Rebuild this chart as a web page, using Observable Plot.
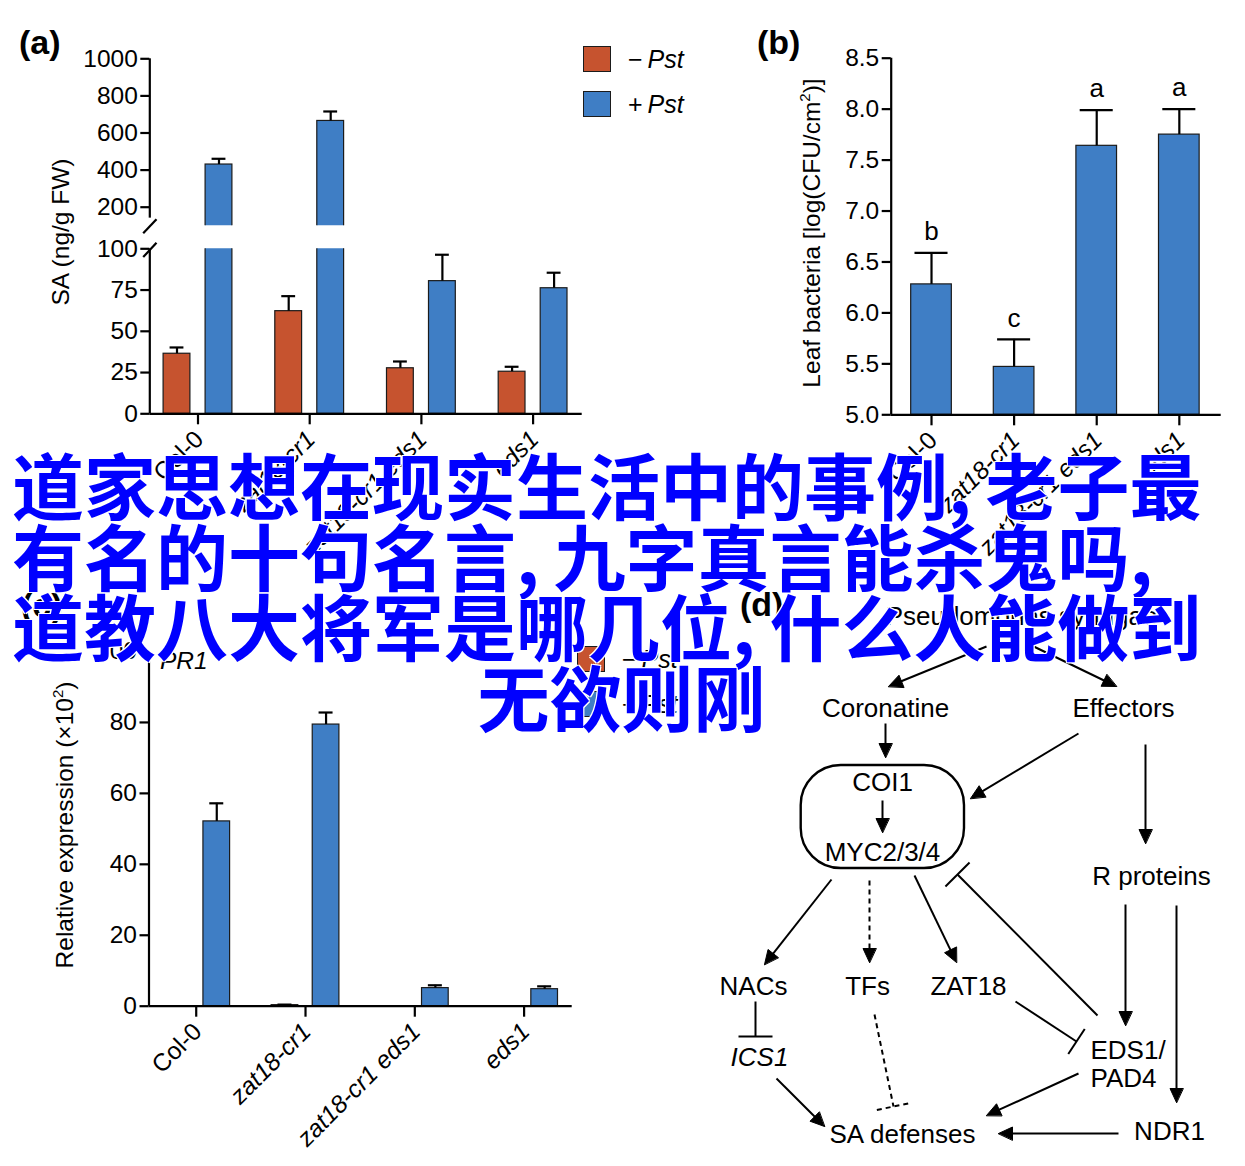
<!DOCTYPE html>
<html>
<head>
<meta charset="utf-8">
<script src="https://cdn.jsdelivr.net/npm/d3@7"></script>
<script src="https://cdn.jsdelivr.net/npm/@observablehq/plot@0.6"></script>
<style>
  html, body { margin: 0; padding: 0; background: #fff; }
  #root { position: relative; width: 1245px; height: 1166px; overflow: hidden; background: #fff;
          font-family: "Liberation Sans", Arial, Helvetica, sans-serif; color: #000; }
  #root svg { position: absolute; overflow: visible; background: transparent; }
  #root svg g[aria-label*="axis"] line, #root svg g[aria-label*="axis"] path { stroke-width: 2.2px; stroke: #000; }
  .abs { position: absolute; white-space: nowrap; }
  .panel { font-weight: bold; font-size: 34px; line-height: 1; }
  .ytitle { font-size: 24.5px; line-height: 1; transform: translate(-50%, -50%) rotate(-90deg); }
  .ytitle sup { font-size: 15px; vertical-align: 10px; line-height: 0; }
  .sw { position: absolute; width: 28px; height: 26px; border: 1.2px solid #1b1b1b; box-sizing: border-box; }
  .lg { position: absolute; font-size: 25px; line-height: 1; transform: translateY(-50%); }
  .ov { position: absolute; font-family: "Noto Sans CJK SC", sans-serif; font-weight: 700; font-size: 72px;
        line-height: 72px; color: #0000ff; white-space: nowrap;
        text-shadow: 1px 1px 0 #fff, -1px -1px 0 #fff, 1px -1px 0 #fff, -1px 1px 0 #fff; }
  .ov .cm { margin-right: 14px; }
</style>
</head>
<body>
<div id="root"></div>
<script>
// ---------------- data ----------------
const genotypes = ["Col-0", "zat18-cr1", "zat18-cr1 eds1", "eds1"];
const genotypeItalic = [false, true, true, true];
const treatments = ["\u2212Pst", "+Pst"];
const treatmentColors = ["#c6532f", "#3f7ec5"];

// (a) SA content (ng/g FW)
const saMock = [36.4, 62.2, 27.6, 25.5];
const saMockSE = [3.8, 9.1, 4.1, 3.0];
const saPst = [430, 665, 80.4, 76.1];
const saPstSE = [31, 51, 16.0, 9.4];
const saTicksLow = [0, 25, 50, 75, 100];
const saTicksHigh = [200, 400, 600, 800, 1000];

// (b) leaf bacteria log(CFU/cm2)
const bacteria = [6.28, 5.47, 7.64, 7.75];
const bacteriaSE = [0.31, 0.27, 0.35, 0.25];
const bacteriaLetters = ["b", "c", "a", "a"];
const bacteriaTicks = [5.0, 5.5, 6.0, 6.5, 7.0, 7.5, 8.0, 8.5];

// (c) PR1 relative expression (x10^2)
const pr1Mock = [0, 0.3, 0, 0];
const pr1MockSE = [0, 0.15, 0, 0];
const pr1Pst = [52.1, 79.4, 5.1, 4.8];
const pr1PstSE = [5.1, 3.4, 0.8, 0.8];
const pr1Ticks = [0, 20, 40, 60, 80, 100];

// (d) signalling diagram (panel units)
const nodeLabels = ["Pseudomonas syringae", "Coronatine", "Effectors", "COI1", "MYC2/3/4", "R proteins",
                    "NACs", "TFs", "ZAT18", "ICS1", "EDS1/", "PAD4", "SA defenses", "NDR1"];
const nodeX = [321, 185, 423, 182, 182, 451, 53, 167, 268, 59, 390, 390, 202, 469];
const nodeY = [36, 128, 128, 202, 272, 296, 406, 406, 406, 477, 470, 498, 554, 551];
const nodeAnchor = ["middle", "middle", "middle", "middle", "middle", "middle", "middle", "middle",
                    "middle", "middle", "start", "start", "middle", "middle"];
const nodeItalic = [false, false, false, false, false, false, false, false, false, true, false, false, false, false];
// activating edges: [x1, y1, x2, y2, dashed]
const arrowEdges = [
  [286, 66, 188, 106, 0], [327, 63, 416, 106, 0], [185, 143, 185, 177, 0], [182, 220, 182, 252, 0],
  [378, 153, 270, 218, 0], [445, 164, 445, 263, 0], [131, 299, 64, 384, 0], [169, 300, 169, 382, 1],
  [214, 295, 256, 382, 0], [76, 498, 124, 546, 0], [378, 493, 286, 535, 0], [418, 553, 298, 553, 0],
  [425, 324, 425, 445, 0], [476, 325, 476, 522, 0]
];
// inhibiting edges: [x1, y1, x2, y2, dashed, barLength]
const inhibitEdges = [
  [397, 435, 257, 294, 0, 34], [55, 421, 55, 456, 0, 34], [315, 421, 376, 461, 0, 30], [174, 434, 193, 526, 1, 34]
];
const complexBox = [100.7, 185, 264, 288];

const overlayLines = [
  "道家思想在现实生活中的事例,老子最",
  "有名的十句名言,九字真言能杀鬼吗,",
  "道教八大将军是哪几位,什么人能做到",
  "无欲则刚"
];

// ---------------- helpers ----------------
const root = document.getElementById("root");
const FONT = '"Liberation Sans", Arial, Helvetica, sans-serif';

function place(node, left, top) {
  node.style.left = left + "px";
  node.style.top = top + "px";
  root.appendChild(node);
}
function html(cls, content, left, top) {
  const d = document.createElement("div");
  d.className = "abs " + cls;
  d.innerHTML = content;
  d.style.left = left + "px";
  d.style.top = top + "px";
  root.appendChild(d);
  return d;
}

function makeRows(list) {
  const rows = [];
  list.forEach(s => s.values.forEach((v, i) => rows.push({i, t: s.name, v, se: s.se[i], xc: i + s.offset})));
  return rows;
}

function barPlot(c) {
  const plotW = c.width - c.mL - c.mR;
  const plotH = c.height - c.mT - c.mB;
  const uX = (c.xDomain[1] - c.xDomain[0]) / plotW; // data units per pixel
  const uY = (c.yDomain[1] - c.yDomain[0]) / plotH;
  const err = c.rows.filter(d => d.se > 0 && d.v >= c.yDomain[0] && d.v <= c.yDomain[1]);
  const marks = [
    Plot.rect(c.rows, {x1: d => d.xc - c.halfW, x2: d => d.xc + c.halfW, y1: () => c.base, y2: "v",
      fill: "t", stroke: "#1b1b1b", strokeWidth: 1.2, clip: true}),
    Plot.ruleX(err, {x: "xc", y1: "v", y2: d => d.v + d.se, stroke: "#000", strokeWidth: 2.2}),
    Plot.ruleY(err, {y: d => d.v + d.se, x1: d => d.xc - c.cap, x2: d => d.xc + c.cap, stroke: "#000", strokeWidth: 2.2}),
    Plot.ruleX([c.xDomain[0]], c.axisFrom != null
      ? {y1: () => c.axisFrom, y2: () => c.yDomain[1], stroke: "#000", strokeWidth: 2.2}
      : {stroke: "#000", strokeWidth: 2.2})
  ];
  if (c.xAxis) {
    marks.push(Plot.ruleY([c.base], {stroke: "#000", strokeWidth: 2.2}));
    const labs = genotypes.map((g, i) => ({g, i, it: genotypeItalic[i]}));
    const common = {x: "i", text: "g", frameAnchor: "bottom", rotate: -45, textAnchor: "end",
      dx: 7, dy: 27, fontSize: 24.5, fill: "#000"};
    marks.push(Plot.text(labs.filter(d => !d.it), common));
    marks.push(Plot.text(labs.filter(d => d.it), {...common, fontStyle: "italic"}));
  }
  if (c.letters) {
    marks.push(Plot.text(c.rows, {x: "xc", y: d => d.v + d.se, text: (d) => c.letters[d.i], dy: -21, fontSize: 26, fill: "#000"}));
  }
  if (c.breaks) {
    // axis break strokes, given in pixel offsets from the axis
    const b = c.breaks.map(([px1, py1, px2, py2]) => ({
      x1: c.xDomain[0] + px1 * uX, y1: c.breakRef - py1 * uY,
      x2: c.xDomain[0] + px2 * uX, y2: c.breakRef - py2 * uY
    }));
    marks.push(Plot.link(b, {x1: "x1", y1: "y1", x2: "x2", y2: "y2", stroke: "#000", strokeWidth: 2.2}));
  }
  const svg = Plot.plot({
    width: c.width, height: c.height,
    marginLeft: c.mL, marginRight: c.mR, marginTop: c.mT, marginBottom: c.mB,
    style: {fontFamily: FONT, fontSize: "24.5px", color: "#000", background: "transparent", overflow: "visible"},
    x: c.xAxis ? {domain: c.xDomain, ticks: [0, 1, 2, 3], tickFormat: () => "", tickSize: 11, label: null}
               : {domain: c.xDomain, axis: null},
    y: {domain: c.yDomain, ticks: c.yTicks, tickSize: 9, tickPadding: 3, label: null,
        tickFormat: c.yFormat || (d => String(d))},
    color: {domain: treatments, range: treatmentColors},
    marks
  });
  place(svg, c.left, c.top);
  return svg;
}

// ---------------- panel (a) ----------------
const rowsA = makeRows([
  {name: treatments[0], values: saMock, se: saMockSE, offset: -0.188},
  {name: treatments[1], values: saPst, se: saPstSE, offset: 0.188}
]);
const xDomA = [-0.4315, 3.4396];
// upper segment
barPlot({left: 0, top: 40, width: 600, height: 190, mL: 149.3, mR: 18.3, mT: 18.3, mB: 4.75,
  xDomain: xDomA, yDomain: [100, 1000], yTicks: saTicksHigh, rows: rowsA, halfW: 0.12, cap: 0.062,
  base: 0, xAxis: false, axisFrom: 141,
  breakRef: 100, breaks: [[-6.6, 7.5, 6.7, -6.5]]});
// lower segment
barPlot({left: 0, top: 230, width: 600, height: 290, mL: 149.3, mR: 18.3, mT: 18.3, mB: 106.7,
  xDomain: xDomA, yDomain: [0, 100], yTicks: saTicksLow, rows: rowsA, halfW: 0.12, cap: 0.062,
  base: 0, xAxis: true,
  breakRef: 100, breaks: [[-6.6, 8.3, 6.7, -6.0]]});

// ---------------- panel (b) ----------------
const rowsB = makeRows([{name: treatments[1], values: bacteria, se: bacteriaSE, offset: 0}]);
barPlot({left: 740, top: 40, width: 505, height: 480, mL: 150.7, mR: 24.3, mT: 17.7, mB: 105.7,
  xDomain: [-0.488, 3.507], yDomain: [5, 8.5], yTicks: bacteriaTicks, yFormat: d3.format(".1f"),
  rows: rowsB, halfW: 0.246, cap: 0.2, base: 5, xAxis: true, letters: bacteriaLetters});

// ---------------- panel (c) ----------------
const rowsC = makeRows([
  {name: treatments[0], values: pr1Mock, se: pr1MockSE, offset: -0.188},
  {name: treatments[1], values: pr1Pst, se: pr1PstSE, offset: 0.188}
]);
barPlot({left: 0, top: 630, width: 600, height: 536, mL: 148.5, mR: 28.3, mT: 21, mB: 160.3,
  xDomain: [-0.432, 3.44], yDomain: [0, 100], yTicks: pr1Ticks,
  rows: rowsC, halfW: 0.122, cap: 0.064, base: 0, xAxis: true});

// ---------------- panel (d) diagram ----------------
function unit(a) { const dx = a.x2 - a.x1, dy = a.y2 - a.y1, L = Math.hypot(dx, dy); return [dx / L, dy / L]; }
const HEAD_L = 14, HEAD_W = 6.5;
const arrowRows = arrowEdges.map(([x1, y1, x2, y2, dashed], k) => ({k, x1, y1, x2, y2, dashed}));
const shafts = arrowRows.map(a => { const [ux, uy] = unit(a); return {...a, x2: a.x2 - ux * HEAD_L * 0.7, y2: a.y2 - uy * HEAD_L * 0.7}; });
const heads = arrowRows.flatMap(a => {
  const [ux, uy] = unit(a);
  const bx = a.x2 - ux * HEAD_L, by = a.y2 - uy * HEAD_L;
  return [[a.x2, a.y2], [bx - uy * HEAD_W, by + ux * HEAD_W], [bx + uy * HEAD_W, by - ux * HEAD_W]]
    .map(([x, y]) => ({k: a.k, x, y}));
});
const inhibitRows = inhibitEdges.map(([x1, y1, x2, y2, dashed, len], k) => ({k, x1, y1, x2, y2, dashed, len}));
const tBars = inhibitRows.map(a => {
  const [ux, uy] = unit(a); const h = a.len / 2;
  return {dashed: a.dashed, x1: a.x2 - uy * h, y1: a.y2 + ux * h, x2: a.x2 + uy * h, y2: a.y2 - ux * h};
});
const nodes = nodeLabels.map((t, i) => ({t, x: nodeX[i], y: nodeY[i], a: nodeAnchor[i], it: nodeItalic[i]}));
const linkOpts = {x1: "x1", y1: "y1", x2: "x2", y2: "y2", stroke: "#000", strokeWidth: 2};
const dashOpts = {...linkOpts, strokeDasharray: "5,4"};
const diagram = Plot.plot({
  width: 545, height: 586, margin: 0,
  style: {fontFamily: FONT, fontSize: "26px", color: "#000", background: "transparent", overflow: "visible"},
  x: {domain: [0, 545], range: [0, 545], axis: null},
  y: {domain: [0, 586], range: [0, 586], axis: null},
  marks: [
    Plot.rect([complexBox], {x1: d => d[0], y1: d => d[1], x2: d => d[2], y2: d => d[3], rx: 40, ry: 40,
      fill: "none", stroke: "#000", strokeWidth: 2.4}),
    Plot.link(shafts.filter(d => !d.dashed), linkOpts),
    Plot.link(shafts.filter(d => d.dashed), dashOpts),
    Plot.link(inhibitRows.filter(d => !d.dashed), linkOpts),
    Plot.link(inhibitRows.filter(d => d.dashed), dashOpts),
    Plot.link(tBars.filter(d => !d.dashed), linkOpts),
    Plot.link(tBars.filter(d => d.dashed), dashOpts),
    Plot.line(heads, {x: "x", y: "y", z: "k", curve: "linear-closed", fill: "#000", stroke: "#000", strokeWidth: 1}),
    Plot.text(nodes.filter(d => d.a === "middle" && !d.it), {x: "x", y: "y", text: "t", fontSize: 26, fill: "#000"}),
    Plot.text(nodes.filter(d => d.it), {x: "x", y: "y", text: "t", fontSize: 26, fontStyle: "italic", fill: "#000"}),
    Plot.text(nodes.filter(d => d.a === "start"), {x: "x", y: "y", text: "t", textAnchor: "start", fontSize: 26, fill: "#000"})
  ]
});
place(diagram, 700, 580);

// ---------------- HTML labels, legends, titles ----------------
html("panel", "(a)", 19, 25);
html("panel", "(b)", 757, 25);
html("panel", "(c)", 21, 588);
html("panel", "(d)", 740, 587);

html("ytitle", "SA (ng/g FW)", 61, 232);
html("ytitle", "Leaf bacteria [log(CFU/cm<sup>2</sup>)]", 812, 233);
html("ytitle", "Relative expression (\u00d710<sup>2</sup>)", 65, 825);

html("lg", "<i>PR1</i>", 160, 661).style.fontSize = "24.5px";

function legend(x, y1, y2) {
  [y1, y2].forEach((y, k) => {
    const s = document.createElement("div");
    s.className = "sw";
    s.style.background = treatmentColors[k];
    place(s, x, y - 13);
    const sign = treatments[k].slice(0, 1), rest = treatments[k].slice(1);
    html("lg", sign + "\u2009<i>" + rest + "</i>", x + 45, y);
  });
}
legend(583, 59, 104);
legend(577, 659, 704);

// ---------------- overlay text ----------------
const ovTops = [447, 517.5, 588, 658.5];
overlayLines.forEach((line, k) => {
  const d = document.createElement("div");
  d.className = "ov";
  d.innerHTML = line.replace(/,/g, '<span class="cm">,</span>');
  d.style.top = ovTops[k] + "px";
  if (k < 3) { d.style.left = "12px"; }
  else { d.style.left = "0px"; d.style.width = "1243px"; d.style.textAlign = "center"; }
  root.appendChild(d);
});
</script>
</body>
</html>
